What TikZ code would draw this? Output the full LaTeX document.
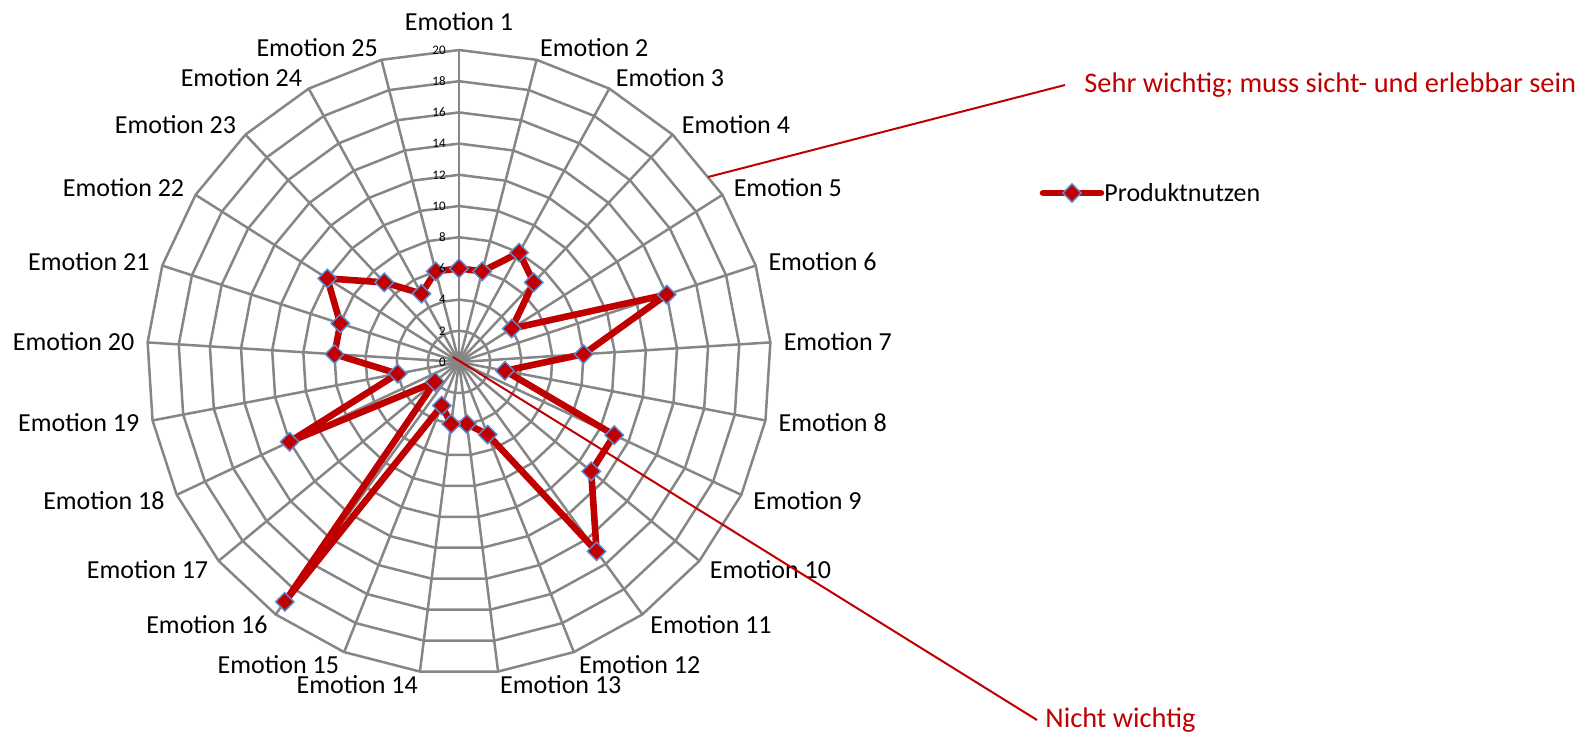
\documentclass[tikz,border=0pt]{standalone}
\usepackage{fontspec}
\setmainfont{Carlito}
\usepackage{xcolor}
\usepackage{tikz}
\usetikzlibrary{shapes.geometric}

\definecolor{gridgray}{RGB}{134,134,134}
\definecolor{datared}{RGB}{192,0,0}
\definecolor{markblue}{RGB}{85,142,213}

\tikzset{
  gridline/.style={gridgray, line width=1.25pt, line join=round},
  dataline/.style={datared, line width=3.3pt, line join=round},
  datapoint/.style={diamond, fill=datared, draw=markblue, line width=0.7pt, inner sep=0pt, minimum size=9.5pt},
  axislabel/.style={font=\fontsize{13}{15}\selectfont, inner sep=0pt},
  ticklabel/.style={font=\fontsize{6.5}{8}\selectfont, inner sep=0pt, anchor=east},
  note/.style={datared, font=\fontsize{14.2}{16}\selectfont, inner ysep=0pt},
  noteline/.style={datared, line width=1pt}
}

\begin{document}
\begin{tikzpicture}[x=0.5pt, y=-0.5pt]
    \useasboundingbox (0,0) rectangle (1583,735);

    \begin{scope}[shift={(459,362)}]
    % Spokes
    \foreach \k in {0,...,24}
        \draw[gridline] (0,0) -- ({-90+14.4*\k}:312);

    % Rings
    \foreach \j in {1,...,10}
        \draw[gridline] (-90:{31.2*\j}) \foreach \k in {1,...,24} {-- ({-90+14.4*\k}:{31.2*\j})} -- cycle;

    % Produktnutzen series
    \foreach \v [count=\k] in {6,6,8,7,4,14,8,3,11,11,15,5,4,4,3,19,2,12,4,8,8,10,7,5,6}
        \coordinate (p\k) at ({-90+14.4*(\k-1)}:{15.6*\v});
    \draw[dataline] (p1) \foreach \k in {2,...,25} {-- (p\k)} -- cycle;
    \foreach \k in {1,...,25}
        \node[datapoint] (m\k) at (p\k) {};

    % Tick labels
    \foreach \t in {0,2,...,20}
        \node[ticklabel] at (-13, {-15.6*\t}) {\t};

    % Axis labels
    \node[axislabel, anchor=south] (e1) at (-90:331) {Emotion 1};
    \foreach \k in {2,...,13}
        \node[axislabel, anchor=west] (e\k) at ({-90+14.4*(\k-1)}:325) {Emotion \k};
    \foreach \k in {14,...,25}
        \node[axislabel, anchor=east] (e\k) at ({-90+14.4*(\k-1)}:325) {Emotion \k};

    \coordinate (hub) at (-6,-5);
    \end{scope}

    % Notes
    \coordinate (rim) at (708,177);
    \node[note, anchor=west, inner xsep=9.5pt] (sehr) at (1065,85) {Sehr wichtig; muss sicht- und erlebbar sein};
    \node[note, anchor=west, inner xsep=4pt] (nicht) at (1037,720) {Nicht wichtig};
    \draw[noteline] (rim) -- (sehr.west);
    \draw[noteline] (hub) -- (nicht.west);

    % Legend
    \coordinate (legA) at (1043,193);
    \coordinate (legB) at (1101,193);
    \draw[dataline, line cap=round] (legA) -- (legB);
    \node[datapoint] (legmark) at (1072,193) {};
    \node[axislabel, anchor=west] (legtext) at (1104,193) {Produktnutzen};
\end{tikzpicture}
\end{document}
